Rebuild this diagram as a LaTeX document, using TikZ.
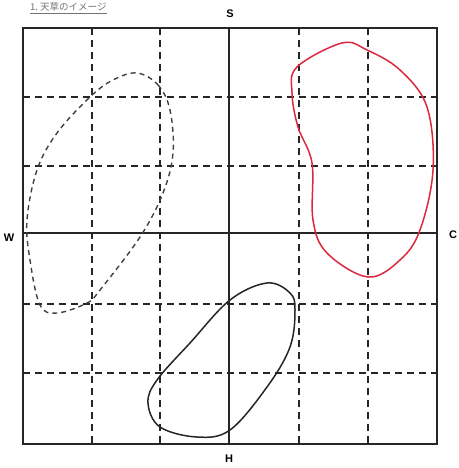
\documentclass[tikz,border=0pt]{standalone}
\usepackage{fontspec}
\setsansfont{Liberation Sans}
\newfontfamily\jpfont{Noto Sans CJK JP}
\definecolor{blobred}{RGB}{220,40,60}
\begin{document}
\begin{tikzpicture}[x=1pt,y=-1pt,
  gridline/.style={line width=1.4pt,dash pattern=on 7pt off 5pt,black!85},
  axisline/.style={line width=1.3pt,black!85},
  lbl/.style={font=\sffamily\bfseries\fontsize{11}{13}\selectfont,inner sep=0pt},
  blob/.style={line width=1.5pt}]
\useasboundingbox (0,0) rectangle (458,468);
% grid
\foreach \x in {92,160,299,368} \draw[gridline] (\x,28) -- (\x,444);
\foreach \y in {97,166,304,373} \draw[gridline] (23,\y) -- (437,\y);
\draw[axisline] (229,28) -- (229,444);
\draw[axisline] (23,233) -- (437,233);
\draw[line width=1.5pt,black!85] (23,28) rectangle (437,444);
% labels
\node[lbl] (s) at (230,14) {S};
\node[lbl] (w) at (9,238) {W};
\node[lbl] (c) at (453,235) {C};
\node[lbl] (h) at (229,459) {H};
\node[anchor=west,inner sep=0pt,text=black!55,font=\jpfont\fontsize{9.5}{11}\selectfont] (t) at (30,8) {\underline{1.\ 天草のイメージ}};
% red shape
\draw[blob,blobred] plot[smooth cycle,tension=0.6] coordinates {
 (342,43) (367,50) (400,70) (427,107) (433,170) (420,230) (400,260) (368,277)
 (327,253) (313,220) (312,163) (298,127) (292,93) (297,67)};
% dashed shape
\draw[line width=1.4pt,dash pattern=on 5pt off 4pt,black!75] plot[smooth cycle,tension=0.6] coordinates {
 (137,73) (158,85) (170,110) (173,153) (163,193) (140,237) (100,290) (87,303)
 (57,313) (40,305) (30,260) (27,220) (37,170) (57,133) (90,97) (113,80)};
% black shape
\draw[blob,black!85] plot[smooth cycle,tension=0.6] coordinates {
 (267,283) (290,293) (295,310) (290,347) (267,387) (230,430) (197,437) (160,427)
 (148,403) (157,380) (190,343) (230,300)};
\end{tikzpicture}
\end{document}
